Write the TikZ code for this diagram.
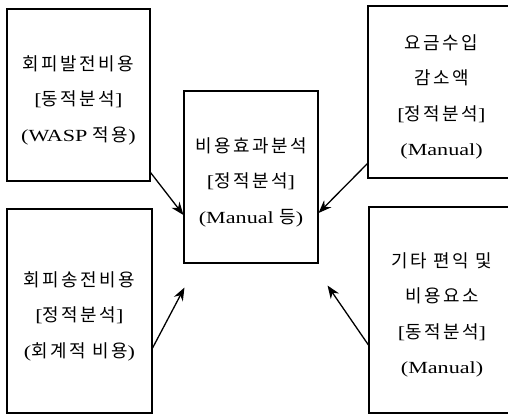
\documentclass[tikz,border=0pt]{standalone}
\usepackage{fontspec}
\setmainfont[FakeStretch=1.3]{Liberation Serif}
\newfontfamily\krfont[Scale=1.054,LetterSpace=14]{Noto Sans CJK KR}
\newcommand\K[1]{{\krfont #1}}
\newcommand\T{\rule{0pt}{25pt}}
\usetikzlibrary{arrows.meta}
\begin{document}
\begin{tikzpicture}[x=1pt,y=-1pt,
  box/.style={draw, line width=1.1pt, inner sep=0pt, align=center,
    font=\fontsize{17}{35.5}\selectfont},
  arr/.style={line width=1.3pt, -{Stealth[length=13pt,width=10pt]}}]
\useasboundingbox (0,0) rectangle (508,416);
\clip (0,0) rectangle (508,416);
\node[box, minimum width=143pt, minimum height=172pt] (tl) at (78.5,95)
  {\T\K{회피발전비용}\\{[}\K{동적분석}{]}\\(WASP \K{적용})};
\node[box, minimum width=134pt, minimum height=172pt] (c) at (251,177)
  {\T\K{비용효과분석}\\{[}\K{정적분석}{]}\\(Manual \K{등})};
\node[box, minimum width=147pt, minimum height=172pt] (tr) at (441.5,92)
  {\T\K{요금수입}\\\K{감소액}\\{[}\K{정적분석}{]}\\(Manual)};
\node[box, minimum width=145pt, minimum height=204pt] (bl) at (79.5,311)
  {\T\K{회피송전비용}\\{[}\K{정적분석}{]}\\(\K{회계적 비용})};
\node[box, minimum width=146pt, minimum height=206pt] (br) at (442,310)
  {\T\K{기타 편익 및}\\\K{비용요소}\\{[}\K{동적분석}{]}\\(Manual)};
\draw[arr] ([yshift=9pt]tl.south east) -- ([yshift=-38pt]c.west);
\draw[arr] ([yshift=15pt]tr.south west) -- ([yshift=-36pt]c.east);
\draw[arr] ([yshift=-37pt]bl.east) -- ([shift={(1pt,-24pt)}]c.south west);
\draw[arr] ([yshift=-35pt]br.west) -- ([shift={(9pt,-22pt)}]c.south east);
\end{tikzpicture}
\end{document}
